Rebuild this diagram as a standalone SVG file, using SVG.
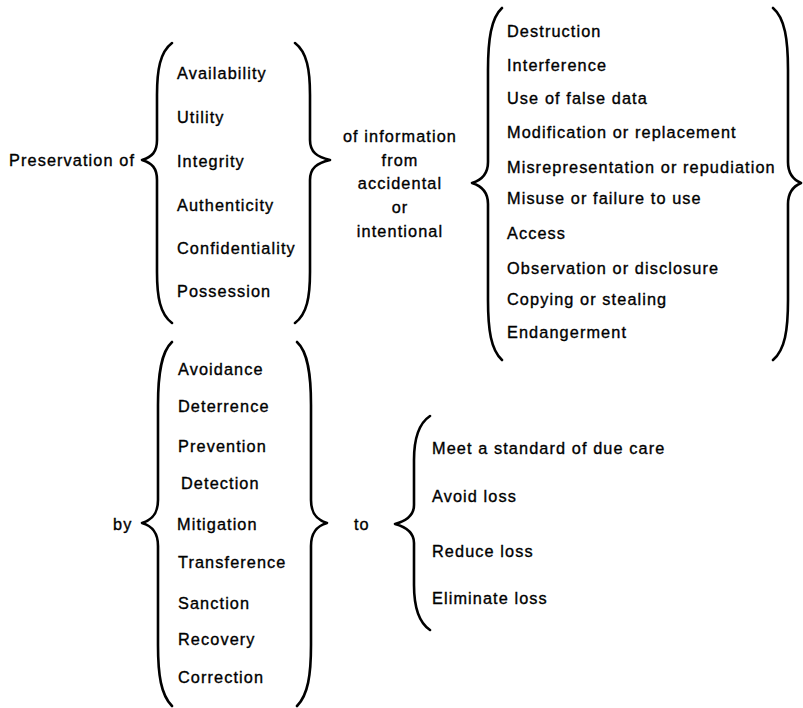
<svg xmlns="http://www.w3.org/2000/svg" width="803" height="708" viewBox="0 0 803 708">
<style>
.b{fill:none;stroke:#000;stroke-width:2.6;stroke-linecap:round;stroke-linejoin:round}
text{font-family:"Liberation Sans",Arial,sans-serif;font-size:16.3px;letter-spacing:1.1px;fill:#000;stroke:#000;stroke-width:0.35}
.c{text-anchor:middle}
</style>
<rect width="803" height="708" fill="#fff"/>
<g id="braces">
<path class="b" d="M172,43 C160,52 157,70 157,95 L157,140 C157,152 152,157 142,160 C152,163 157,168 157,180 L157,272 C157,297 160,314 172,323"/>
<path class="b" d="M295,43 C307,52 310,70 310,95 L310,140 C310,152 317,157 330,160 C317,163 310,168 310,180 L310,272 C310,297 307,314 295,323"/>
<path class="b" d="M502,8 C491,18 488,40 488,70 L488,162 C488,174 482,180 472,183 C482,186 488,192 488,204 L488,300 C488,330 491,350 502,360"/>
<path class="b" d="M773,8 C785,18 788,40 788,70 L788,162 C788,174 794,180 801,183 C794,186 788,192 788,204 L788,300 C788,330 785,350 773,360"/>
<path class="b" d="M172,342 C161,352 158,375 158,405 L158,500 C158,514 152,520 142,523 C152,526 158,532 158,546 L158,645 C158,675 161,695 172,706"/>
<path class="b" d="M297,342 C308,352 311,375 311,405 L311,500 C311,514 317,520 327,523 C317,526 311,532 311,546 L311,645 C311,675 308,695 297,706"/>
<path class="b" d="M430,416 C418,424 414,440 414,460 L414,505 C414,516 406,521 395,524 C406,527 414,532 414,543 L414,585 C414,605 418,622 430,630"/>
</g>
<g id="preservation">
<text x="9" y="166">Preservation of</text>
</g>
<g id="qualities">
<text x="177" y="79">Availability</text>
<text x="177" y="123">Utility</text>
<text x="177" y="167">Integrity</text>
<text x="177" y="211">Authenticity</text>
<text x="177" y="254">Confidentiality</text>
<text x="177" y="297">Possession</text>
</g>
<g id="information">
<text class="c" x="400" y="142">of information</text>
<text class="c" x="400" y="166">from</text>
<text class="c" x="400" y="189">accidental</text>
<text class="c" x="400" y="213">or</text>
<text class="c" x="400" y="237">intentional</text>
</g>
<g id="threats">
<text x="507" y="37">Destruction</text>
<text x="507" y="71">Interference</text>
<text x="507" y="104">Use of false data</text>
<text x="507" y="138">Modification or replacement</text>
<text x="507" y="173">Misrepresentation or repudiation</text>
<text x="507" y="204">Misuse or failure to use</text>
<text x="507" y="239">Access</text>
<text x="507" y="274">Observation or disclosure</text>
<text x="507" y="305">Copying or stealing</text>
<text x="507" y="338">Endangerment</text>
</g>
<g id="by">
<text x="113" y="530">by</text>
</g>
<g id="methods">
<text x="178" y="375">Avoidance</text>
<text x="178" y="412">Deterrence</text>
<text x="178" y="452">Prevention</text>
<text x="181" y="489">Detection</text>
<text x="177" y="530">Mitigation</text>
<text x="178" y="568">Transference</text>
<text x="178" y="609">Sanction</text>
<text x="178" y="645">Recovery</text>
<text x="178" y="683">Correction</text>
</g>
<g id="to">
<text x="354" y="530">to</text>
</g>
<g id="goals">
<text x="432" y="454">Meet a standard of due care</text>
<text x="432" y="502">Avoid loss</text>
<text x="432" y="557">Reduce loss</text>
<text x="432" y="604">Eliminate loss</text>
</g>
</svg>
